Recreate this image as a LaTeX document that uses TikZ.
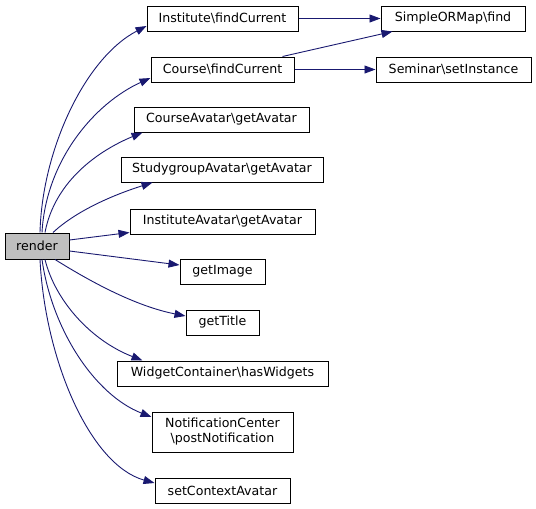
\documentclass[tikz,border=0pt]{standalone}
\usepackage{fontspec}
\setmainfont{DejaVu Sans}
\usetikzlibrary{arrows.meta}
\definecolor{edgecol}{HTML}{191970}
\definecolor{rendfill}{HTML}{BFBFBF}
\begin{document}
\begin{tikzpicture}[x=1pt,y=-1pt,
  fn/.style={draw=black,line width=1pt,fill=white,inner sep=0pt,minimum height=25pt,font=\fontsize{12.6}{15}\selectfont,align=center},
  call/.style={draw=edgecol,line width=0.9pt,-{Triangle[length=11pt,width=8pt]}}]
\useasboundingbox (0,0) rectangle (536,509);
\node[fn,fill=rendfill,minimum width=64pt,minimum height=26pt] (render) at (37,246) {render};
\node[fn,minimum width=151pt] (inst) at (222.5,18.5) {Institute\textbackslash findCurrent};
\node[fn,minimum width=143pt] (course) at (222.5,69.5) {Course\textbackslash findCurrent};
\node[fn,minimum width=175pt] (cav) at (221.5,119.5) {CourseAvatar\textbackslash getAvatar};
\node[fn,minimum width=202pt] (sga) at (222,169.5) {StudygroupAvatar\textbackslash getAvatar};
\node[fn,minimum width=185pt] (iav) at (222.5,221.5) {InstituteAvatar\textbackslash getAvatar};
\node[fn,minimum width=85pt] (gimg) at (222.5,271.5) {getImage};
\node[fn,minimum width=73pt] (gtit) at (222.5,322.5) {getTitle};
\node[fn,minimum width=211pt] (wid) at (222.5,373.5) {WidgetContainer\textbackslash hasWidgets};
\node[fn,minimum width=141pt,minimum height=40pt] (notif) at (222.5,432) {NotificationCenter\\\textbackslash postNotification};
\node[fn,minimum width=135pt] (setctx) at (222.5,490.5) {setContextAvatar};
\node[fn,minimum width=144pt] (som) at (453,18.5) {SimpleORMap\textbackslash find};
\node[fn,minimum width=155pt] (sem) at (453.5,69.5) {Seminar\textbackslash setInstance};

\draw[call] ([xshift=3pt]render.north) .. controls (42,150) and (85,58) .. ([yshift=-7.5pt]inst.west);
\draw[call] ([xshift=5pt]render.north) .. controls (46,160) and (95,103) .. ([yshift=-8.5pt]course.west);
\draw[call] ([xshift=8pt]render.north) .. controls (55,180) and (100,150) .. ([xshift=9pt]cav.south west);
\draw[call] ([xshift=16pt]render.north) .. controls (75,212) and (110,196) .. ([xshift=32pt]sga.south west);
\draw[call] ([yshift=6pt]render.east) -- ([yshift=2pt]iav.south west);
\draw[call] ([yshift=-5pt]render.east) -- ([yshift=6.5pt]gimg.west);
\draw[call] ([xshift=18pt]render.south) .. controls (80,275) and (130,305) .. ([yshift=6.5pt]gtit.west);
\draw[call] ([xshift=8pt]render.south) .. controls (55,300) and (90,340) .. ([xshift=26pt]wid.north west);
\draw[call] ([xshift=5pt]render.south) .. controls (52,330) and (95,395) .. ([yshift=15pt]notif.west);
\draw[call] ([xshift=3pt]render.south) .. controls (45,360) and (90,465) .. ([yshift=7.5pt]setctx.west);

\draw[call] (inst.east) -- (som.west);
\draw[call] ([xshift=-12pt]course.north east) -- ([xshift=12pt]som.south west);
\draw[call] (course.east) -- (sem.west);
\end{tikzpicture}
\end{document}
